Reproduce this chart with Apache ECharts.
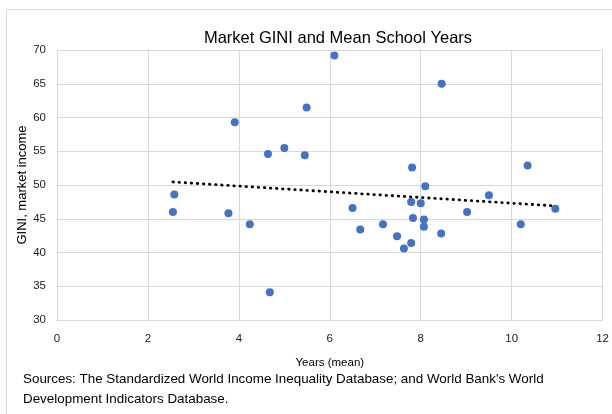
<!DOCTYPE html>
<html>
<head>
<meta charset="utf-8">
<script src="https://cdn.jsdelivr.net/npm/echarts@6/dist/echarts.min.js"></script>
<style>
html,body{margin:0;padding:0;background:#fff;}
#c{width:612px;height:414px;}
</style>
</head>
<body>
<div id="c"></div>
<script>
// Data
var schoolYears = [2.58, 2.55, 3.77, 3.91, 4.24, 4.64, 4.68, 5.00, 5.45, 5.49, 6.10, 6.50, 6.67, 7.17, 7.48, 7.63, 7.79, 7.79, 7.81, 7.83, 8.00, 8.07, 8.07, 8.10, 8.45, 8.46, 9.02, 9.50, 10.20, 10.35, 10.96];
var giniMarket  = [48.6, 46.0, 45.8, 59.3, 44.2, 54.6, 34.1, 55.5, 54.4, 61.5, 69.2, 46.6, 43.4, 44.2, 42.4, 40.6, 41.4, 47.5, 52.6, 45.1, 47.3, 44.9, 43.8, 49.8, 42.8, 65.0, 46.0, 48.5, 44.2, 52.9, 46.5];
var trendX = [2.55, 10.96];
var trendY = [50.45, 46.9];
var xTicks = [0, 2, 4, 6, 8, 10, 12];
var yTicks = [30, 35, 40, 45, 50, 55, 60, 65, 70];

var pts = schoolYears.map(function (x, i) { return [x, giniMarket[i]]; });
var trend = trendX.map(function (x, i) { return [x, trendY[i]]; });

var chart = echarts.init(document.getElementById('c'), null, {renderer: 'canvas'});
var font = 'Liberation Sans, Arial, sans-serif';
chart.setOption({
  animation: false,
  backgroundColor: '#fff',
  title: {
    text: 'Market GINI and Mean School Years',
    left: 333, top: 25, textAlign: 'center',
    textStyle: {fontFamily: font, fontSize: 16.5, fontWeight: 'normal', color: '#000'}
  },
  grid: {left: 57, right: 6, top: 50, bottom: 94, containLabel: false},
  xAxis: {
    type: 'value', min: xTicks[0], max: xTicks[xTicks.length - 1], interval: 2,
    name: 'Years (mean)', nameLocation: 'middle', nameGap: 37, nameMoveOverlap: false,
    nameTextStyle: {fontFamily: font, fontSize: 11.5, color: '#000'},
    axisLine: {show: true, lineStyle: {color: '#d9d9d9', width: 1}},
    axisTick: {show: false},
    splitLine: {show: true, lineStyle: {color: '#d9d9d9', width: 1}},
    axisLabel: {fontFamily: font, fontSize: 11.5, color: '#222', margin: 13}
  },
  yAxis: {
    type: 'value', min: yTicks[0], max: yTicks[yTicks.length - 1], interval: 5,
    name: 'GINI, market income', nameLocation: 'middle', nameGap: 28, nameRotate: 90, nameMoveOverlap: false,
    nameTextStyle: {fontFamily: font, fontSize: 13, color: '#000'},
    axisLine: {show: false},
    axisTick: {show: false},
    splitLine: {show: true, lineStyle: {color: '#d9d9d9', width: 1}},
    axisLabel: {fontFamily: font, fontSize: 11.5, color: '#222', margin: 11}
  },
  series: [
    {
      type: 'scatter', data: pts, symbol: 'circle', symbolSize: 8,
      itemStyle: {color: '#4472C4', opacity: 1}
    },
    {
      type: 'line', data: trend, symbol: 'none', z: 3,
      lineStyle: {color: '#000', width: 2.8, type: [0.5, 5.6], cap: 'round'}
    }
  ],
  graphic: [
    {type: 'rect', shape: {x: 6.5, y: 9.5, width: 620, height: 420}, style: {fill: 'none', stroke: '#d9d9d9', lineWidth: 1}, silent: true},
    {type: 'text', left: 23, top: 369, style: {text: "Sources: The Standardized World Income Inequality Database; and World Bank's World\nDevelopment Indicators Database.", font: '13.4px ' + font, fill: '#000', lineHeight: 20}}
  ]
});
</script>
</body>
</html>
